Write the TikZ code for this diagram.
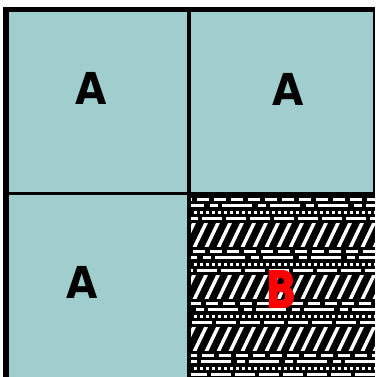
\documentclass[tikz,border=0pt]{standalone}
\usepackage{fontspec}
\setmainfont{DejaVu Sans}
\newfontfamily\fatfont{DejaVu Sans Bold}[FakeBold=3]
\definecolor{cellteal}{RGB}{160,206,206}
\begin{document}
\begin{tikzpicture}[x=1pt,y=-1pt,
  letter/.style={font=\bfseries\fontsize{44}{44}\selectfont, inner sep=0pt, text=black, xscale=0.92},
  bletter/.style={font=\fatfont\fontsize{50}{50}\selectfont, inner sep=0pt, text=red, xscale=0.8},
  dashrow/.style={white, line width=3pt},
  hatch/.style={white, line width=3.5pt}]
\useasboundingbox (0,0) rectangle (375,377);
\fill[white] (0,0) rectangle (375,377);
\fill[black] (3,7) rectangle (375,377);
\fill[cellteal] (9,12) rectangle (187,192);
\fill[cellteal] (191,12) rectangle (373,192);
\fill[cellteal] (9,195) rectangle (187,377);
% textured cell
\begin{scope}
  \clip (191,195) rectangle (375,377);
  \fill[black] (191,195) rectangle (375,377);
  \foreach \h [count=\k] in {171,223,275,327,379} {
    \draw[dashrow, dash pattern=on 12pt off 5pt, dash phase=\k*4pt] (188,\h-24) -- (380,\h-24);
    \draw[dashrow, dash pattern=on 30pt off 6pt on 8pt off 4pt, dash phase=\k*7pt] (188,\h-18) -- (380,\h-18);
    \draw[dashrow, dash pattern=on 3pt off 3pt] (188,\h-11) -- (380,\h-11);
    \draw[dashrow, dash pattern=on 20pt off 4pt, dash phase=\k*5pt] (188,\h-5) -- (380,\h-5);
    \begin{scope}
      \clip (188,\h) rectangle (380,\h+23);
      \foreach \x in {170,182,...,390} {
        \draw[hatch] (\x,\h+25) -- (\x+13,\h-2);
      }
    \end{scope}
  }
\end{scope}
\node[letter] (a1) at (91,88) {A};
\node[letter] (a2) at (288,89) {A};
\node[letter] (a3) at (82,282) {A};
\node[bletter] (b) at (281,289) {B};
\end{tikzpicture}
\end{document}
